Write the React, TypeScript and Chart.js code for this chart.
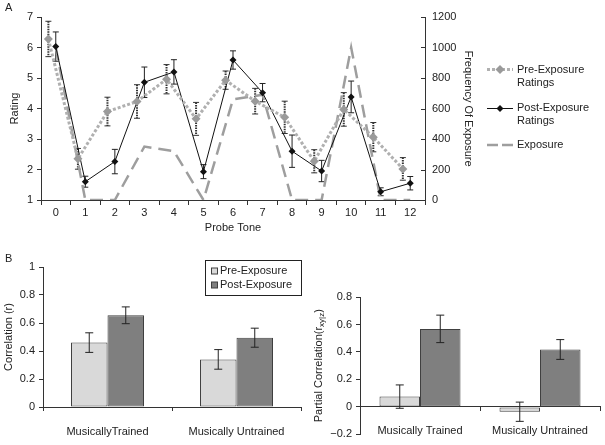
import React, { useEffect, useRef } from 'react';
import { Chart, registerables } from 'chart.js';

Chart.register(...registerables);

const FONT = "'Liberation Sans', Arial, Helvetica, sans-serif";
Chart.defaults.font.family = FONT;
Chart.defaults.font.size = 11;
Chart.defaults.color = '#222';

// ---- Panel A data ----
const probeTones = ['0', '1', '2', '3', '4', '5', '6', '7', '8', '9', '10', '11', '12'];
const preRatings = [6.28, 2.35, 3.9, 4.23, 4.96, 3.66, 4.93, 4.24, 3.71, 2.27, 3.97, 3.06, 2.02];
const preErr = [0.58, 0.34, 0.47, 0.55, 0.48, 0.54, 0.3, 0.42, 0.53, 0.38, 0.55, 0.48, 0.37];
const postRatings = [6.03, 1.6, 2.26, 4.86, 5.2, 1.93, 5.59, 4.52, 2.6, 1.95, 4.38, 1.27, 1.55];
const postErr = [0.48, 0.18, 0.4, 0.5, 0.4, 0.23, 0.3, 0.3, 0.53, 0.35, 0.52, 0.13, 0.22];
const exposureFreq = [1000, 0, 0, 350, 320, 0, 660, 690, 0, 0, 1000, 0, 0];
const ratingTicks = [1, 7];
const freqTicks = [0, 1200];

// ---- Panel B data ----
const corrGroups = ['MusicallyTrained', 'Musically Untrained'];
const corrPre = [0.46, 0.34];
const corrPreErr = [0.07, 0.07];
const corrPost = [0.655, 0.495];
const corrPostErr = [0.06, 0.068];

const partialGroups = ['Musically Trained', 'Musically Untrained'];
const partialPre = [0.075, -0.035];
const partialPreErr = [0.085, 0.07];
const partialPost = [0.568, 0.418];
const partialPostErr = [0.1, 0.072];

const fmtTick = (v: number) => {
  const r = Math.round(v * 10) / 10;
  if (Math.abs(r) < 1e-9) return '0';
  const s = Number.isInteger(r) ? String(Math.abs(r)) : Math.abs(r).toFixed(1);
  return (r < 0 ? '\u2212' : '') + s;
};

function drawErrBars(chart: any) {
  const ctx = chart.ctx;
  chart.data.datasets.forEach((ds: any, di: number) => {
    const errs = ds.errors;
    if (!errs) return;
    const meta = chart.getDatasetMeta(di);
    const yScale = chart.scales[meta.yAxisID];
    ctx.save();
    ctx.strokeStyle = ds.errColor || '#222';
    meta.data.forEach((el: any, i: number) => {
      const parsed = meta.controller.getParsed(i);
      const v = parsed.y;
      const e = errs[i];
      const x = el.x;
      const yt = yScale.getPixelForValue(v + e);
      const yb = yScale.getPixelForValue(v - e);
      const cap = ds.errCap || 3;
      ctx.lineWidth = ds.errWidth || 1;
      ctx.setLineDash(ds.errDash || []);
      ctx.beginPath();
      ctx.moveTo(x, yt);
      ctx.lineTo(x, yb);
      ctx.stroke();
      ctx.setLineDash([]);
      ctx.lineWidth = 1;
      ctx.beginPath();
      ctx.moveTo(x - cap, yt);
      ctx.lineTo(x + cap, yt);
      ctx.moveTo(x - cap, yb);
      ctx.lineTo(x + cap, yb);
      ctx.stroke();
    });
    ctx.restore();
  });
}

const errBefore = { id: 'errBefore', beforeDatasetsDraw: drawErrBars };
const errAfter = { id: 'errAfter', afterDatasetsDraw: drawErrBars };

function diamond(ctx: any, x: number, y: number, r: number, color: string) {
  ctx.fillStyle = color;
  ctx.beginPath();
  ctx.moveTo(x, y - r);
  ctx.lineTo(x + r, y);
  ctx.lineTo(x, y + r);
  ctx.lineTo(x - r, y);
  ctx.closePath();
  ctx.fill();
}

const topDecor = {
  id: 'topDecor',
  afterDraw(chart: any) {
    const ctx = chart.ctx;
    const area = chart.chartArea;
    ctx.save();
    // inward ticks on right axis
    const y2 = chart.scales.y2;
    ctx.strokeStyle = '#333';
    ctx.lineWidth = 1;
    y2.ticks.forEach((t: any) => {
      const py = Math.round(y2.getPixelForValue(t.value)) + 0.5;
      ctx.beginPath();
      ctx.moveTo(area.right - 4, py);
      ctx.lineTo(area.right, py);
      ctx.stroke();
    });
    ctx.font = `11px ${FONT}`;
    ctx.fillStyle = '#222';
    ctx.textBaseline = 'middle';
    ctx.textAlign = 'left';
    ctx.fillText('A', 5, 8);
    const lx0 = 487, lx1 = 513, tx = 517;
    // Pre
    ctx.strokeStyle = '#b0b0b0';
    ctx.lineWidth = 3;
    ctx.setLineDash([3, 2]);
    ctx.beginPath(); ctx.moveTo(lx0, 69.5); ctx.lineTo(lx1, 69.5); ctx.stroke();
    diamond(ctx, 500, 69.5, 4.5, '#9a9a9a');
    ctx.fillStyle = '#222';
    ctx.fillText('Pre-Exposure', tx, 69.5);
    ctx.fillText('Ratings', tx, 82.5);
    // Post
    ctx.setLineDash([]);
    ctx.strokeStyle = '#111';
    ctx.lineWidth = 1;
    ctx.beginPath(); ctx.moveTo(lx0, 108.5); ctx.lineTo(lx1, 108.5); ctx.stroke();
    diamond(ctx, 500, 108.5, 3.5, '#111');
    ctx.fillStyle = '#222';
    ctx.fillText('Post-Exposure', tx, 107.5);
    ctx.fillText('Ratings', tx, 120.5);
    // Exposure
    ctx.strokeStyle = '#9e9e9e';
    ctx.lineWidth = 2.5;
    ctx.setLineDash([11, 4]);
    ctx.beginPath(); ctx.moveTo(lx0, 145); ctx.lineTo(lx1, 145); ctx.stroke();
    ctx.setLineDash([]);
    ctx.fillText('Exposure', tx, 145);
    ctx.restore();
  },
};

const corrDecor = {
  id: 'corrDecor',
  afterDraw(chart: any) {
    const ctx = chart.ctx;
    ctx.save();
    ctx.font = `11px ${FONT}`;
    ctx.fillStyle = '#222';
    ctx.textBaseline = 'middle';
    ctx.fillText('B', 5, 18.5);
    // legend box
    ctx.strokeStyle = '#222';
    ctx.lineWidth = 1;
    ctx.strokeRect(205.5, 20.5, 96, 35);
    const rows = [
      { y: 31, fill: '#d9d9d9', text: 'Pre-Exposure' },
      { y: 45, fill: '#7f7f7f', text: 'Post-Exposure' },
    ];
    rows.forEach((r) => {
      ctx.fillStyle = r.fill;
      ctx.fillRect(211.5, r.y - 3, 6, 6);
      ctx.strokeStyle = '#404040';
      ctx.strokeRect(211.5, r.y - 3, 6, 6);
      ctx.fillStyle = '#222';
      ctx.fillText(r.text, 220, r.y);
    });
    ctx.restore();
  },
};

const partialDecor = {
  id: 'partialDecor',
  afterDraw(chart: any) {
    const ctx = chart.ctx;
    const { top, bottom } = chart.chartArea;
    const cy = (top + bottom) / 2;
    ctx.save();
    ctx.translate(18.5, cy);
    ctx.rotate(-Math.PI / 2);
    ctx.fillStyle = '#222';
    ctx.textBaseline = 'middle';
    ctx.textAlign = 'left';
    const mainF = `11px ${FONT}`;
    const subF = `8px ${FONT}`;
    const t1 = 'Partial Correlation(r';
    const t2 = 'xy|z';
    const t3 = ')';
    ctx.font = mainF;
    const w1 = ctx.measureText(t1).width;
    const w3 = ctx.measureText(t3).width;
    ctx.font = subF;
    const w2 = ctx.measureText(t2).width;
    const start = -(w1 + w2 + w3) / 2;
    ctx.font = mainF;
    ctx.fillText(t1, start, 0);
    ctx.font = subF;
    ctx.fillText(t2, start + w1, 3);
    ctx.font = mainF;
    ctx.fillText(t3, start + w1 + w2, 0);
    ctx.restore();
  },
};

const axisCol = '#333';

function useChart(ref: any, makeConfig: () => any) {
  useEffect(() => {
    if (!ref.current) return;
    const chart = new Chart(ref.current, makeConfig());
    return () => chart.destroy();
  }, []);
}

export default function App() {
  const topRef = useRef<HTMLCanvasElement>(null);
  const leftRef = useRef<HTMLCanvasElement>(null);
  const rightRef = useRef<HTMLCanvasElement>(null);

  useChart(topRef, () => ({
    type: 'line',
    data: {
      datasets: [
        {
          label: 'Pre-Exposure Ratings',
          data: preRatings.map((v, i) => ({ x: i - 0.25, y: v })),
          errors: preErr,
          errDash: [1.5, 1],
          errWidth: 2,
          errColor: '#333',
          errCap: 3,
          borderColor: '#b0b0b0',
          borderWidth: 3,
          borderDash: [3, 2],
          pointStyle: 'rectRot',
          pointRadius: 4.5,
          pointBackgroundColor: '#9a9a9a',
          pointBorderColor: '#9a9a9a',
          pointBorderWidth: 0,
          yAxisID: 'y',
        },
        {
          label: 'Post-Exposure Ratings',
          data: postRatings.map((v, i) => ({ x: i, y: v })),
          errors: postErr,
          errCap: 3,
          borderColor: '#111',
          borderWidth: 1,
          pointStyle: 'rectRot',
          pointRadius: 3.5,
          pointBackgroundColor: '#111',
          pointBorderColor: '#111',
          pointBorderWidth: 0,
          yAxisID: 'y',
        },
        {
          label: 'Exposure',
          data: exposureFreq.map((v, i) => ({ x: i, y: v })),
          borderColor: '#9e9e9e',
          borderWidth: 2.5,
          borderDash: [13, 7],
          pointRadius: 0,
          yAxisID: 'y2',
        },
      ],
    },
    options: {
      animation: false,
      responsive: false,
      layout: { padding: { left: 0, top: 17, right: 128, bottom: 0 } },
      plugins: { legend: { display: false }, tooltip: { enabled: false } },
      scales: {
        x: {
          type: 'linear',
          min: -0.5,
          max: probeTones.length - 0.5,
          afterBuildTicks: (s: any) => {
            s.ticks = probeTones.map((_, i) => ({ value: i }));
          },
          ticks: { autoSkip: false, maxRotation: 0, padding: 1, callback: (v: number) => probeTones[v] ?? '' },
          grid: { offset: true, drawOnChartArea: false, tickLength: 5, color: axisCol },
          border: { color: axisCol },
          title: { display: true, text: 'Probe Tone', padding: { top: 0, bottom: 5 } },
          afterFit: (s: any) => { s.height = 40; },
        },
        y: {
          position: 'left',
          min: ratingTicks[0],
          max: ratingTicks[1],
          ticks: { stepSize: 1, padding: 4 },
          grid: { drawOnChartArea: false, tickLength: 4, color: axisCol },
          border: { color: axisCol },
          title: { display: true, text: 'Rating', padding: { top: 8, bottom: 0 } },
          afterFit: (s: any) => { s.width = 41; },
        },
        y2: {
          position: 'right',
          min: freqTicks[0],
          max: freqTicks[1],
          ticks: { stepSize: 200, padding: 7, callback: (v: number) => String(v) },
          grid: { drawOnChartArea: false, drawTicks: false, color: axisCol },
          border: { color: axisCol },
          title: { display: true, text: 'Frequency Of Exposure', padding: { top: 2, bottom: 0 } },
          afterFit: (s: any) => { s.width = 52; },
        },
      },
    },
    plugins: [errBefore, topDecor],
  }));

  const barDs = (label: string, data: number[], errors: number[], fill: string, pct: number) => ({
    label,
    data,
    errors,
    errCap: 4,
    backgroundColor: fill,
    borderColor: '#404040',
    borderWidth: 1,
    borderSkipped: false,
    categoryPercentage: pct,
    barPercentage: 1,
  });

  useChart(leftRef, () => ({
    type: 'bar',
    data: {
      labels: corrGroups,
      datasets: [
        barDs('Pre-Exposure', corrPre, corrPreErr, '#d9d9d9', 0.566),
        barDs('Post-Exposure', corrPost, corrPostErr, '#7f7f7f', 0.566),
      ],
    },
    options: {
      animation: false,
      responsive: false,
      layout: { padding: { left: 0, top: 27, right: 19, bottom: 0 } },
      plugins: { legend: { display: false }, tooltip: { enabled: false } },
      scales: {
        x: {
          grid: { offset: true, drawOnChartArea: false, tickLength: 4, color: axisCol },
          border: { color: axisCol },
          ticks: { padding: 14.5, maxRotation: 0 },
          afterFit: (s: any) => { s.height = 38; },
        },
        y: {
          min: 0,
          max: 1,
          ticks: { stepSize: 0.2, padding: 4, callback: (v: number) => fmtTick(v) },
          grid: { drawOnChartArea: false, tickLength: 4, color: axisCol },
          border: { color: axisCol },
          title: { display: true, text: 'Correlation (r)', padding: { top: 2, bottom: 0 } },
          afterFit: (s: any) => { s.width = 43; },
        },
      },
    },
    plugins: [errAfter, corrDecor],
  }));

  useChart(rightRef, () => ({
    type: 'bar',
    data: {
      labels: partialGroups,
      datasets: [
        barDs('Pre-Exposure', partialPre, partialPreErr, '#d9d9d9', 0.675),
        barDs('Post-Exposure', partialPost, partialPostErr, '#7f7f7f', 0.675),
      ],
    },
    options: {
      animation: false,
      responsive: false,
      layout: { padding: { left: 0, top: 57, right: 5, bottom: 8 } },
      plugins: { legend: { display: false }, tooltip: { enabled: false } },
      scales: {
        x: {
          position: { y: 0 },
          grid: { offset: true, drawOnChartArea: false, tickLength: 4, color: axisCol },
          border: { color: axisCol },
          ticks: { padding: 13.5, maxRotation: 0 },
        },
        y: {
          min: -0.2,
          max: 0.8,
          ticks: { stepSize: 0.2, padding: 4, callback: (v: number) => fmtTick(v) },
          grid: { drawOnChartArea: false, tickLength: 4, color: axisCol },
          border: { color: axisCol },
          afterFit: (s: any) => { s.width = 60; },
        },
      },
    },
    plugins: [errAfter, partialDecor],
  }));

  return (
    <div style={{ position: 'absolute', left: 0, top: 0, width: 605, height: 445, background: '#fff' }}>
      <canvas ref={topRef} width={605} height={240} style={{ position: 'absolute', left: 0, top: 0 }} />
      <canvas ref={leftRef} width={320} height={205} style={{ position: 'absolute', left: 0, top: 240 }} />
      <canvas ref={rightRef} width={305} height={205} style={{ position: 'absolute', left: 300, top: 240 }} />
    </div>
  );
}
